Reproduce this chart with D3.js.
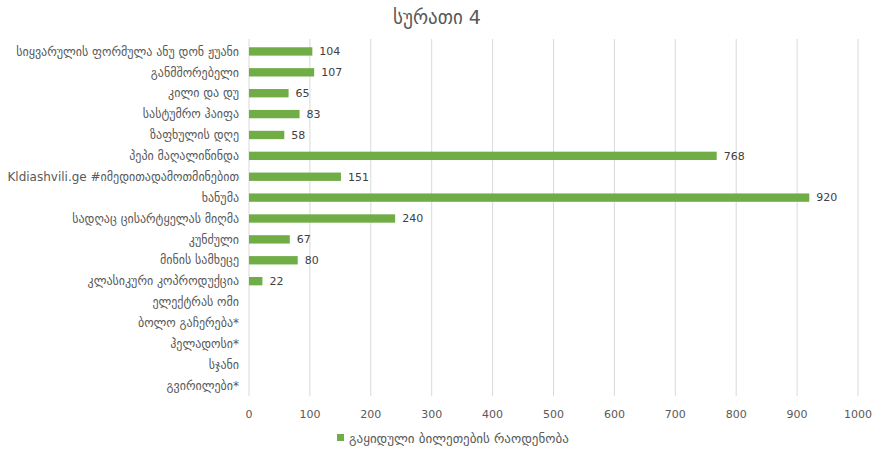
<!DOCTYPE html>
<html>
<head>
<meta charset="utf-8">
<script src="https://cdn.jsdelivr.net/npm/d3@7"></script>
<style>
  html, body { margin: 0; padding: 0; background: #fff; }
  svg { display: block; }
  text { font-family: "DejaVu Sans", "Noto Sans", sans-serif; fill: #595959; }
</style>
</head>
<body>
<svg id="chart" width="875" height="451"></svg>
<script>
// Titles and sold-ticket counts per performance
const chartTitle = "სურათი 4";
const seriesName = "გაყიდული ბილეთების რაოდენობა";
const categories = [
  "სიყვარულის ფორმულა ანუ დონ ჟუანი",
  "განმშორებელი",
  "კილი და დუ",
  "სასტუმრო ჰაიფა",
  "ზაფხულის დღე",
  "პეპი მაღალიწინდა",
  "Kldiashvili.ge #იმედითადამოთმინებით",
  "ხანუმა",
  "სადღაც ცისარტყელას მიღმა",
  "კუნძული",
  "მინის სამხეცე",
  "კლასიკური კოპროდუქცია",
  "ელექტრას ომი",
  "ბოლო გაჩერება*",
  "ჰელადოსი*",
  "სჯანი",
  "გვირილები*"
];
// null = no tickets recorded (no bar, no label)
const values = [104, 107, 65, 83, 58, 768, 151, 920, 240, 67, 80, 22, null, null, null, null, null];
const xTicks = [0, 100, 200, 300, 400, 500, 600, 700, 800, 900, 1000];

const svg = d3.select("#chart");
const margin = { left: 249, right: 17, top: 41, bottom: 55 };
const W = 875, H = 451;

const x = d3.scaleLinear().domain([0, 1000]).range([margin.left, W - margin.right]);
const y = d3.scaleBand().domain(categories).range([margin.top, H - margin.bottom]).paddingInner(0.6).paddingOuter(0.3);

// vertical gridlines
svg.append("g").selectAll("line").data(xTicks).join("line")
  .attr("x1", d => x(d)).attr("x2", d => x(d))
  .attr("y1", margin.top - 2).attr("y2", H - margin.bottom)
  .attr("stroke", "#d9d9d9").attr("stroke-width", 1);

// x tick labels
svg.append("g").selectAll("text").data(xTicks).join("text")
  .attr("x", d => x(d)).attr("y", 418)
  .attr("text-anchor", "middle")
  .style("font-size", "11px")
  .text(d => d);

// category labels
svg.append("g").selectAll("text").data(categories).join("text")
  .attr("x", margin.left - 10)
  .attr("y", d => y(d) + y.bandwidth() / 2)
  .attr("dy", "0.35em")
  .attr("text-anchor", "end")
  .style("font-size", "12px")
  .text(d => d);

const data = categories.map((c, i) => ({ c, v: values[i] })).filter(d => d.v != null);

// bars
svg.append("g").selectAll("rect").data(data).join("rect")
  .attr("x", x(0))
  .attr("y", d => y(d.c))
  .attr("width", d => x(d.v) - x(0))
  .attr("height", y.bandwidth())
  .attr("fill", "#70ad47");

// value labels
svg.append("g").selectAll("text").data(data).join("text")
  .attr("x", d => x(d.v) + 7)
  .attr("y", d => y(d.c) + y.bandwidth() / 2)
  .attr("dy", "0.35em")
  .style("font-size", "11px")
  .style("fill", "#404040")
  .text(d => d.v);

// title
svg.append("text")
  .attr("x", 437).attr("y", 24)
  .attr("text-anchor", "middle")
  .style("font-size", "19px")
  .text(chartTitle);

// legend
const lg = svg.append("g").attr("transform", "translate(337,438)");
lg.append("rect").attr("x", 0).attr("y", -4).attr("width", 7).attr("height", 7).attr("fill", "#70ad47");
lg.append("text").attr("x", 12).attr("y", 0).attr("dy", "0.35em").style("font-size", "13px").text(seriesName);
</script>
</body>
</html>
